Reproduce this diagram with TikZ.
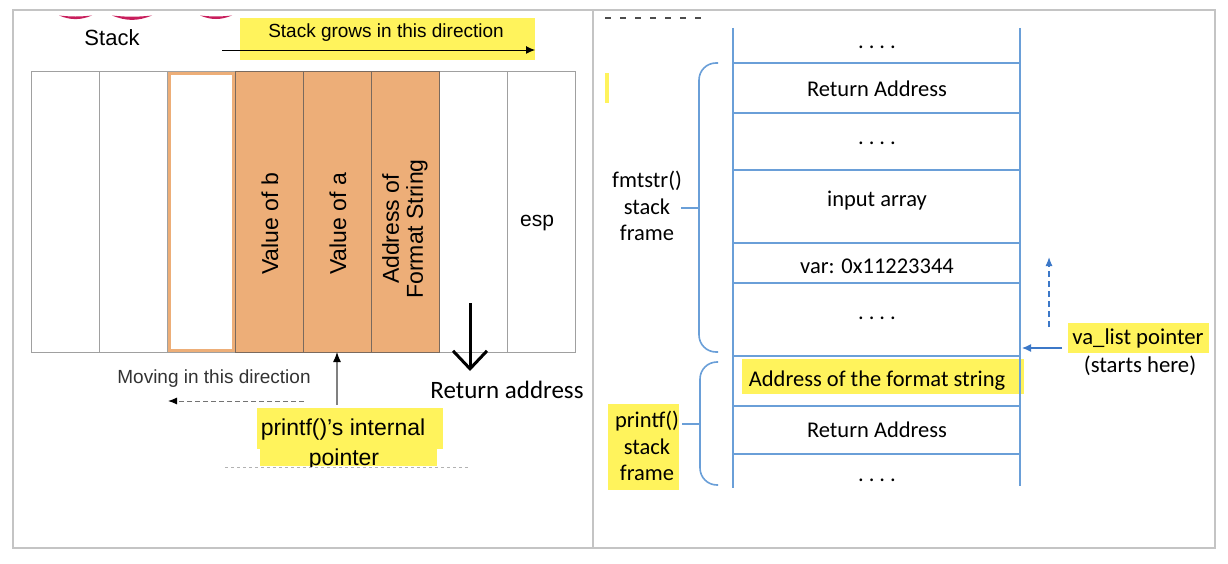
\documentclass[tikz,border=0pt]{standalone}
\usepackage{fontspec}
\setsansfont{Liberation Sans}
\newfontfamily\calfont{Carlito}
\usetikzlibrary{arrows.meta,positioning}

\definecolor{frameg}{HTML}{C4C4C4}
\definecolor{cellg}{HTML}{A0A0A0}
\definecolor{slot}{HTML}{EDAE78}
\definecolor{slotedge}{HTML}{7A6A5E}
\definecolor{hl}{HTML}{FFF35C}
\definecolor{stk}{HTML}{6A9FD8}
\definecolor{arrblue}{HTML}{3C78C8}
\definecolor{pinkish}{HTML}{C81E5C}

\tikzset{
  cell/.style={draw=cellg, line width=1pt, minimum width=68pt, minimum height=280pt,
    inner sep=0pt, outer sep=0pt},
  slotcell/.style={cell, fill=slot, draw=slotedge},
  vlabel/.style={rotate=90, align=center, font=\sffamily\fontsize{23}{24}\selectfont},
  arial/.style={font=\sffamily\fontsize{#1}{#1}\selectfont, inner sep=0pt},
  cal/.style={font=\calfont\fontsize{#1}{#1}\selectfont, inner sep=0pt},
  stkline/.style={draw=stk, line width=2pt},
  brace/.style={draw=stk, line width=1.6pt, rounded corners=17pt},
}

\begin{document}
\begin{tikzpicture}[x=1pt,y=-1pt]
\useasboundingbox (0,0) rectangle (1228,564);
% frame
\draw[frameg, line width=2pt] (13,10) rectangle (1215,548);
\draw[frameg, line width=2pt] (593,10) -- (593,548);

% ---- left: the stack
\foreach \x/\w in {59/33,112/40,200/32}
  \fill[pinkish] (\x,15.5) to[bend right=22] ++(\w,0) to[bend left=6] cycle;
\node[arial=22] (title) at (112,38) {Stack};
\fill[hl] (240,18) rectangle (535,60);
\node[arial=19] (grows) at (386,33) {Stack grows in this direction};
\coordinate (gs) at (222,50);
\coordinate (ge) at (535,50);
\draw[-{Latex[length=9pt,width=8pt]}, line width=0.9pt] (gs) -- (ge);

\foreach \i in {1,...,8}
  \node[cell] (c\i) at ({31+68*\i-34},212) {};
\foreach \i in {4,5,6}
  \node[slotcell] (c\i) at ({31+68*\i-34},212) {};
\node[cell, draw=slot, line width=3pt, minimum width=64pt, minimum height=276pt] at (c3) {};
\node[vlabel] at (270,224) {Value of b};
\node[vlabel] at (338,224) {Value of a};
\node[vlabel] at (405,229) {Address of\\Format String};
\node[arial=21] (esp) at (537,223) {esp};

\coordinate (rtop) at (470,303);
\coordinate (rtip) at (470,371);
\draw[-{Straight Barb[length=18pt,width=34pt]}, line width=3pt] (rtop) -- (rtip);
\node[cal=25] (retaddr) at (507,390) {Return address};

\node[arial=19, text=black!80] (moving) at (214,379) {Moving in this direction};
\coordinate (ms) at (304,401);
\coordinate (me) at (168,401);
\draw[black!55, dash pattern=on 5pt off 3pt, line width=1pt, -{Latex[length=9pt,width=7pt,color=black]}] (ms) -- (me);

\fill[hl] (257,408) rectangle (443,449);
\fill[hl] (260,449) rectangle (437,466);
\node[arial=23] (ptr) at (343,430) {printf()'s internal};
\begin{scope}
  \clip (200,440) rectangle (480,466);
  \node[arial=23] (ptr2) at (344,460) {pointer};
\end{scope}
\coordinate (pb) at (337,405);
\draw[gray, line width=1.2pt, -{Latex[length=10pt,width=8pt,color=black]}] (pb) -- (c5.south);
\draw[gray!60, dashed, line width=1pt] (225,467) -- (470,467);

% ---- right: fmtstr() and printf() frames
\draw[black!70, dash pattern=on 6pt off 9pt, line width=1.5pt] (605,18) -- (705,18);
\fill[hl] (605,73) rectangle (609,103);
\fill[hl] (742,359) rectangle (1024,394);

\draw[stkline] (733,28) -- (733,488);
\draw[stkline] (1020,28) -- (1020,486);
\foreach \y in {63,113,170,243,283,356,406,454}
  \draw[stkline] (733,\y) -- (1020,\y);

\foreach \y/\t [count=\n] in {47/{.\hspace{5pt}.\hspace{5pt}.\hspace{5pt}.},
    89/Return Address, 143/{.\hspace{5pt}.\hspace{5pt}.\hspace{5pt}.}, 201/input array,
    266/var: 0x11223344, 318/{.\hspace{5pt}.\hspace{5pt}.\hspace{5pt}.},
    381/Address of the format string, 430/Return Address,
    480/{.\hspace{5pt}.\hspace{5pt}.\hspace{5pt}.}}
  \node[cal=22.5] (row\n) at (877,\y) {\t};

\draw[brace] (718,63) -- (699,63) -- (699,352) -- (718,352);
\coordinate (fb) at (699,208);
\coordinate (ft) at (681,208);
\draw[stk, line width=1.6pt] (fb) -- (ft);
\node[cal=22.5, align=center] (fmt) at (647,206) {fmtstr()\\[4pt]stack\\[4pt]frame};

\draw[brace] (718,362) -- (700,362) -- (700,485) -- (718,485);
\coordinate (pfb) at (700,424);
\coordinate (pft) at (682,424);
\draw[stk, line width=1.6pt] (pfb) -- (pft);
\fill[hl] (608,404) rectangle (679,490);
\node[cal=22.5, align=center] (pf) at (647,446) {printf()\\[4pt]stack\\[4pt]frame};

\fill[hl] (1068,323) rectangle (1209,353);
\node[cal=22.7] (va) at (1138,338) {va\_list pointer};
\node[cal=22.7] (starts) at (1140,366) {(starts here)};
\coordinate (vs) at (1062,348);
\coordinate (ve) at (1022,348);
\draw[arrblue, line width=1.2pt, -{Latex[length=9pt,width=8pt]}] (vs) -- (ve);
\coordinate (us) at (1049,327);
\coordinate (ue) at (1049,257);
\draw[arrblue, line width=1.2pt, dash pattern=on 6pt off 4pt, -{Latex[length=9pt,width=7pt]}] (us) -- (ue);
\end{tikzpicture}
\end{document}
